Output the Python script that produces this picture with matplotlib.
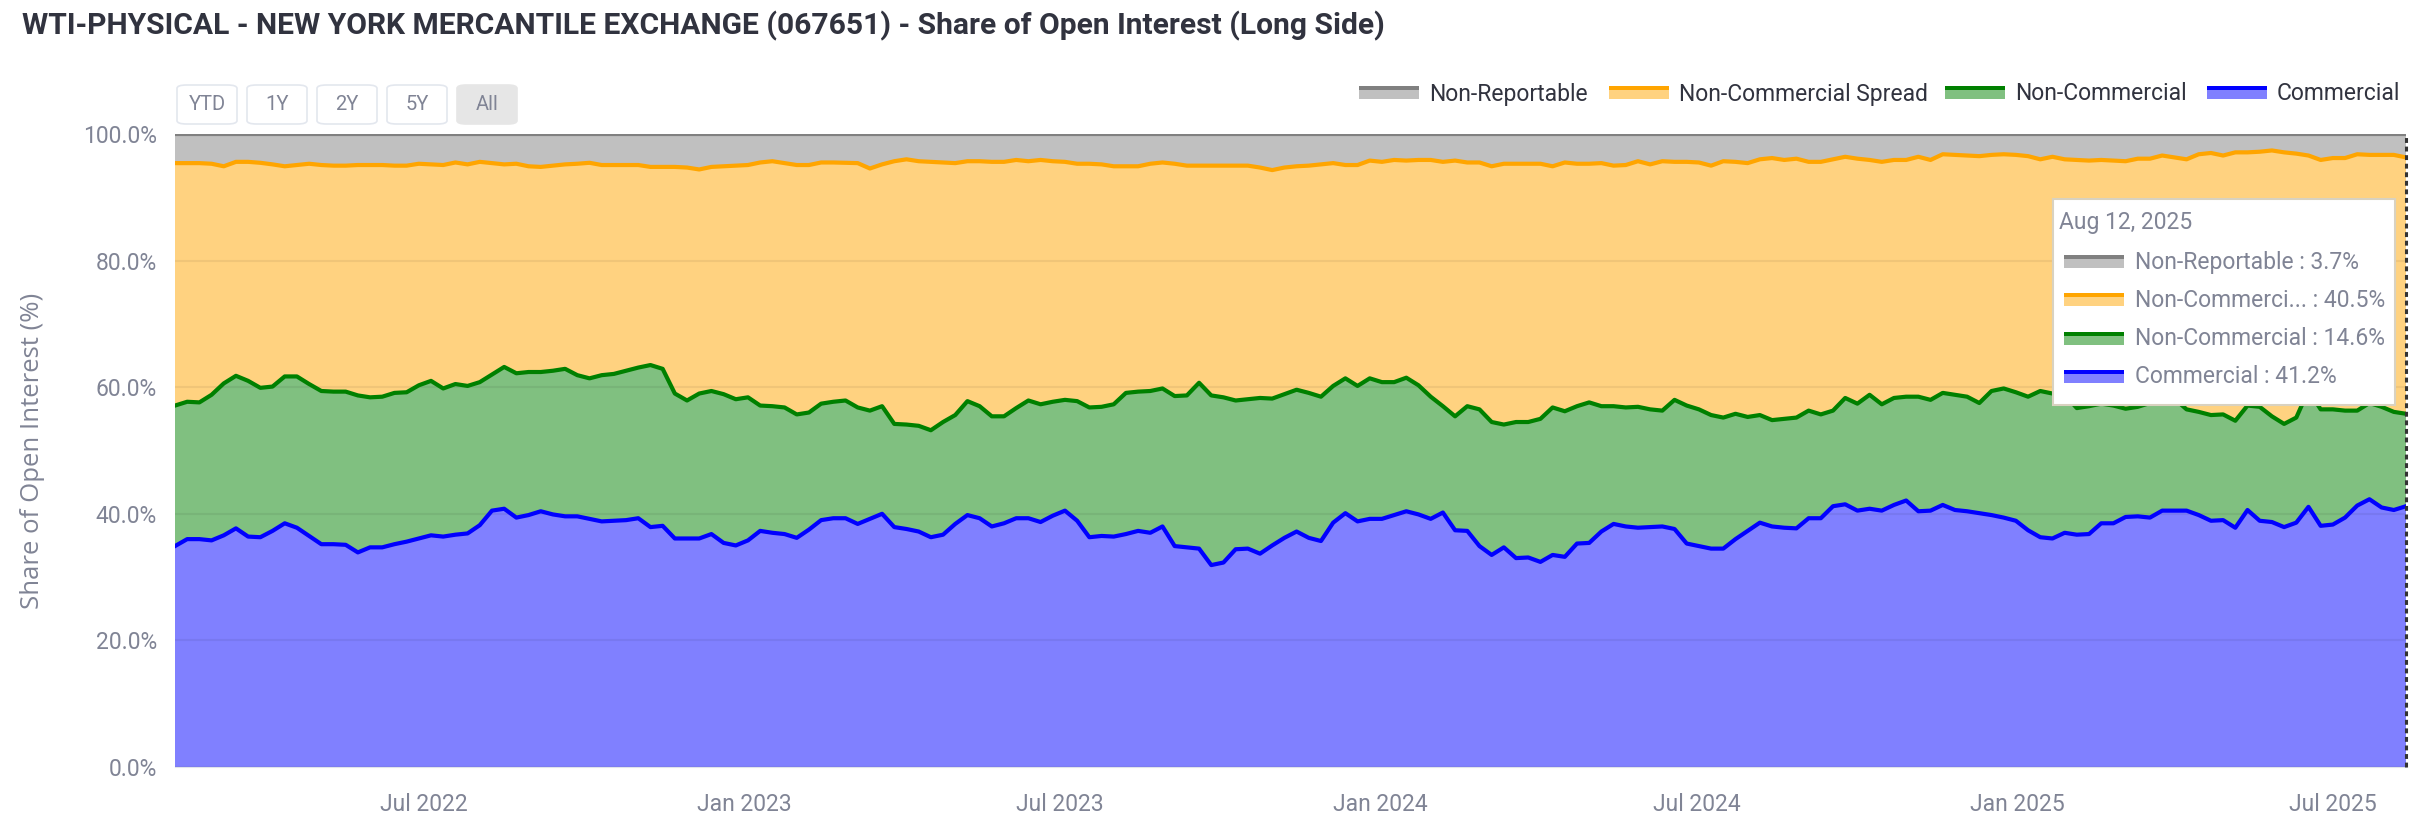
import numpy as np
import pandas as pd
import matplotlib
matplotlib.use('Agg')
import matplotlib.pyplot as plt
import matplotlib.dates as mdates
from matplotlib.patches import Rectangle, FancyBboxPatch

# weekly COT report dates (Tuesdays)
dates = pd.date_range('2022-02-08', '2025-08-12', freq='7D')

# share of long open interest (%)
# commercial = bottom layer
commercial = [
    34.9, 36.0, 36.0, 35.8, 36.6, 37.7, 36.4, 36.3, 37.3, 38.5, 37.8, 36.5, 35.2, 35.2, 35.1, 33.9,
    34.7, 34.7, 35.2, 35.6, 36.1, 36.6, 36.4, 36.7, 36.9, 38.2, 40.5, 40.8, 39.4, 39.8, 40.4, 39.9,
    39.6, 39.6, 39.2, 38.8, 38.9, 39.0, 39.3, 37.9, 38.1, 36.1, 36.1, 36.1, 36.8, 35.4, 35.0,
    35.8, 37.3, 37.0, 36.8, 36.2, 37.5, 39.0, 39.3, 39.3, 38.4, 39.2, 40.0, 37.9, 37.6, 37.2, 36.3,
    36.7, 38.4, 39.8, 39.3, 38.0, 38.5, 39.3, 39.3, 38.7, 39.7, 40.5, 38.9, 36.3, 36.5, 36.4, 36.8,
    37.3, 37.0, 38.0, 34.9, 34.7, 34.5, 31.9, 32.3, 34.4, 34.5, 33.7, 35.0, 36.2, 37.2,
    36.2, 35.7, 38.6, 40.1, 38.8, 39.2, 39.2, 39.8, 40.4, 39.9, 39.2, 40.2, 37.4, 37.3, 34.9, 33.5,
    34.7, 33.0, 33.1, 32.4, 33.5, 33.2, 35.3, 35.4, 37.2, 38.4, 38.0, 37.8, 37.9, 38.0, 37.6, 35.3,
    34.9, 34.5, 34.5, 36.0, 37.3, 38.6, 38.0, 37.8, 37.7, 39.3, 39.3, 41.2, 41.5, 40.5,
    40.8, 40.5, 41.4, 42.1, 40.4, 40.5, 41.4, 40.6, 40.4, 40.1, 39.8, 39.4, 38.9, 37.4, 36.3, 36.1,
    37.0, 36.7, 36.8, 38.5, 38.5, 39.5, 39.6, 39.4, 40.5, 40.5, 40.5, 39.8, 38.9, 39.0, 37.8, 40.6,
    38.9, 38.7, 37.9, 38.6, 41.1, 38.1, 38.3, 39.4, 41.3, 42.3, 41.0, 40.6, 41.2,
]
# top of the non-commercial layer (commercial + non-commercial)
noncomm_top = [
    57.1, 57.7, 57.6, 58.8, 60.6, 61.8, 61.0, 59.9, 60.1, 61.7, 61.7, 60.5, 59.4, 59.3, 59.3, 58.7,
    58.4, 58.5, 59.1, 59.2, 60.3, 61.0, 59.8, 60.5, 60.2, 60.8, 62.0, 63.2, 62.2, 62.4, 62.4, 62.6,
    62.9, 61.9, 61.4, 61.9, 62.1, 62.6, 63.1, 63.5, 62.9, 59.0, 57.9, 59.0, 59.4, 58.9, 58.1,
    58.4, 57.1, 57.0, 56.8, 55.7, 56.0, 57.4, 57.7, 57.9, 56.8, 56.3, 57.0, 54.2, 54.1, 53.9, 53.2,
    54.5, 55.6, 57.8, 57.0, 55.4, 55.4, 56.7, 57.9, 57.3, 57.7, 58.0, 57.8, 56.8, 56.9, 57.3, 59.1,
    59.3, 59.4, 59.8, 58.6, 58.7, 60.7, 58.7, 58.4, 57.9, 58.1, 58.3, 58.2, 58.9, 59.6,
    59.1, 58.5, 60.2, 61.4, 60.2, 61.4, 60.8, 60.8, 61.5, 60.3, 58.5, 57.0, 55.4, 57.0, 56.5, 54.5,
    54.1, 54.5, 54.5, 55.0, 56.8, 56.2, 57.0, 57.6, 57.0, 57.0, 56.8, 56.9, 56.5, 56.3, 58.0, 57.1,
    56.5, 55.6, 55.2, 55.8, 55.3, 55.6, 54.8, 55.0, 55.2, 56.3, 55.7, 56.3, 58.3, 57.4,
    58.8, 57.3, 58.3, 58.5, 58.5, 58.0, 59.1, 58.8, 58.5, 57.5, 59.4, 59.8, 59.2, 58.5, 59.4, 59.0,
    58.8, 56.7, 57.0, 57.4, 57.1, 56.6, 56.9, 57.5, 58.0, 58.2, 56.5, 56.1, 55.6, 55.7, 54.7, 57.1,
    56.9, 55.4, 54.2, 55.2, 59.5, 56.5, 56.5, 56.3, 56.3, 57.5, 56.9, 56.1, 55.8,
]
# top of the non-commercial spread layer
spread_top = [
    95.4, 95.4, 95.4, 95.3, 94.9, 95.6, 95.6, 95.45, 95.2, 94.9, 95.1, 95.3, 95.1, 95.0, 95.0, 95.1,
    95.1, 95.1, 95.0, 95.0, 95.3, 95.2, 95.1, 95.5, 95.2, 95.6, 95.4, 95.2, 95.3, 94.9, 94.8, 95.0,
    95.2, 95.3, 95.45, 95.1, 95.1, 95.1, 95.1, 94.8, 94.8, 94.8, 94.7, 94.4, 94.8, 94.9, 95.0,
    95.1, 95.5, 95.7, 95.4, 95.1, 95.1, 95.5, 95.5, 95.45, 95.4, 94.55, 95.2, 95.7, 96.0, 95.7, 95.6,
    95.5, 95.4, 95.7, 95.7, 95.6, 95.6, 95.9, 95.7, 95.9, 95.7, 95.6, 95.3, 95.3, 95.2, 94.9, 94.9,
    94.9, 95.3, 95.5, 95.3, 95.0, 95.0, 95.0, 95.0, 95.0, 95.0, 94.7, 94.3, 94.7, 94.9,
    95.0, 95.2, 95.4, 95.1, 95.1, 95.8, 95.6, 95.9, 95.8, 95.9, 95.9, 95.6, 95.8, 95.5, 95.5, 94.9,
    95.3, 95.3, 95.3, 95.3, 94.9, 95.5, 95.3, 95.3, 95.4, 95.0, 95.1, 95.7, 95.2, 95.7, 95.6, 95.6,
    95.5, 95.0, 95.7, 95.6, 95.4, 96.0, 96.2, 95.9, 96.1, 95.6, 95.6, 96.0, 96.4, 96.1,
    95.9, 95.6, 95.9, 95.9, 96.4, 95.9, 96.8, 96.7, 96.6, 96.5, 96.7, 96.8, 96.7, 96.5, 96.0, 96.4,
    96.0, 95.9, 95.8, 95.9, 95.8, 95.7, 96.1, 96.1, 96.6, 96.3, 96.0, 96.8, 97.0, 96.6, 97.1, 97.1,
    97.2, 97.4, 97.1, 96.9, 96.6, 95.9, 96.2, 96.2, 96.8, 96.7, 96.7, 96.7, 96.3,
]

series_names = ['Commercial', 'Non-Commercial', 'Non-Commercial Spread', 'Non-Reportable']
line_colors = ['#0000ff', '#008000', '#ffa500', '#808080']
fill_colors = ['#8080ff', '#80c080', '#ffd280', '#c0c0c0']
title = 'WTI-PHYSICAL - NEW YORK MERCANTILE EXCHANGE (067651) - Share of Open Interest (Long Side)'
hover_label = 'Aug 12, 2025'
range_buttons = ['YTD', '1Y', '2Y', '5Y', 'All']

comm = np.array(commercial)
noncomm = np.array(noncomm_top) - comm
spread = np.array(spread_top) - np.array(noncomm_top)
nonrep = 100 - np.array(spread_top)
layers = [comm, noncomm, spread, nonrep]

W, H = 2433, 838
TXT = '#808495'
FONT = 'Roboto'

def fx(x):
    return x / W

def fy(y):
    return 1 - y / H

fig = plt.figure(figsize=(W / 100, H / 100), dpi=100)
ax = fig.add_axes([fx(175), fy(767), fx(2406) - fx(175), fy(134) - fy(767)])

ax.stackplot(dates, *layers, colors=fill_colors, zorder=2)
tops = np.cumsum(layers, axis=0)
for top, c in zip(tops, line_colors):
    ax.plot(dates, top, color=c, lw=3.0, zorder=3, solid_joinstyle='round')

ax.set_xlim(dates[0], dates[-1])
ax.set_ylim(0, 100)
ax.set_yticks(np.arange(0, 101, 20))
ax.yaxis.set_major_formatter(plt.FuncFormatter(lambda v, p: f'{v:.1f}%'))
ax.xaxis.set_major_locator(mdates.MonthLocator(bymonth=[1, 7]))
ax.xaxis.set_major_formatter(mdates.DateFormatter('%b %Y'))
ax.grid(axis='y', color='#000000', alpha=0.06, lw=1.5, zorder=4)
ax.set_axisbelow(False)
for s in ['top', 'right', 'left']:
    ax.spines[s].set_visible(False)
ax.spines['bottom'].set_color('#e0e4ea')
ax.tick_params(length=0, labelsize=16.5, labelcolor=TXT)
ax.tick_params(axis='y', pad=13)
ax.tick_params(axis='x', pad=19)
for lab in ax.get_xticklabels() + ax.get_yticklabels():
    lab.set_fontfamily(FONT)
ax.set_ylabel('Share of Open Interest (%)', fontsize=18.5, color=TXT, family='Open Sans')
ax.yaxis.set_label_coords((45 - 175) / (2406 - 175), 0.5)

# hover spike line at the last date
ax.axvline(dates[-1], color='#333333', lw=2.2, ls=(0, (1.6, 1.2)), zorder=6, clip_on=False)

# title
fig.text(fx(22), fy(26), title, fontsize=21.6, fontweight='bold', color='#31333f',
         family=FONT, va='center', ha='left')

# range selector buttons
for k, lab in enumerate(range_buttons):
    x0 = 177 + 70 * k
    face = '#e6e6e6' if lab == 'All' else 'white'
    edge = '#e6e6e6' if lab == 'All' else '#e3e7ee'
    fig.patches.append(FancyBboxPatch((fx(x0), fy(124)), fx(60), fy(85) - fy(124),
                                      boxstyle='round,pad=0,rounding_size=0.004',
                                      transform=fig.transFigure, facecolor=face,
                                      edgecolor=edge, lw=1.2))
    fig.text(fx(x0 + 30), fy(105), lab, fontsize=14.5, color=TXT, family=FONT,
             ha='center', va='center')

def swatch(x, y, i, z=1):
    # two tone legend key: light fill with darker line on top
    fig.patches.append(Rectangle((fx(x), fy(y + 13)), fx(60), fy(y) - fy(y + 13),
                                 transform=fig.transFigure, facecolor=fill_colors[i],
                                 lw=0, zorder=z))
    fig.patches.append(Rectangle((fx(x), fy(y + 4)), fx(60), fy(y) - fy(y + 4),
                                 transform=fig.transFigure, facecolor=line_colors[i],
                                 lw=0, zorder=z))

# legend (top right), reversed order like the chart
legend_x = [1359, 1609, 1945, 2207]
for pos, i in zip(legend_x, [3, 2, 1, 0]):
    swatch(pos, 86, i)
    fig.text(fx(pos + 70), fy(94), series_names[i], fontsize=16.5, color='#31333f',
             family=FONT, ha='left', va='center')

# hover tooltip
fig.patches.append(Rectangle((fx(2053), fy(405)), fx(342), fy(199) - fy(405),
                             transform=fig.transFigure, facecolor='white',
                             edgecolor='#d9d2c0', lw=1.5, zorder=10))
fig.text(fx(2059), fy(223), hover_label, fontsize=16.5, color=TXT, family=FONT,
         ha='left', va='center', zorder=11)
tip_names = ['Non-Reportable', 'Non-Commerci...', 'Non-Commercial', 'Commercial']
for r, i in enumerate([3, 2, 1, 0]):
    yc = 262 + 38.3 * r
    swatch(2064, yc - 7, i, z=11)
    fig.text(fx(2135), fy(yc), f'{tip_names[r]} : {layers[i][-1]:.1f}%', fontsize=16.5,
             color=TXT, family=FONT, ha='left', va='center', zorder=11)

fig.savefig('out.png', dpi=100, facecolor='white')
